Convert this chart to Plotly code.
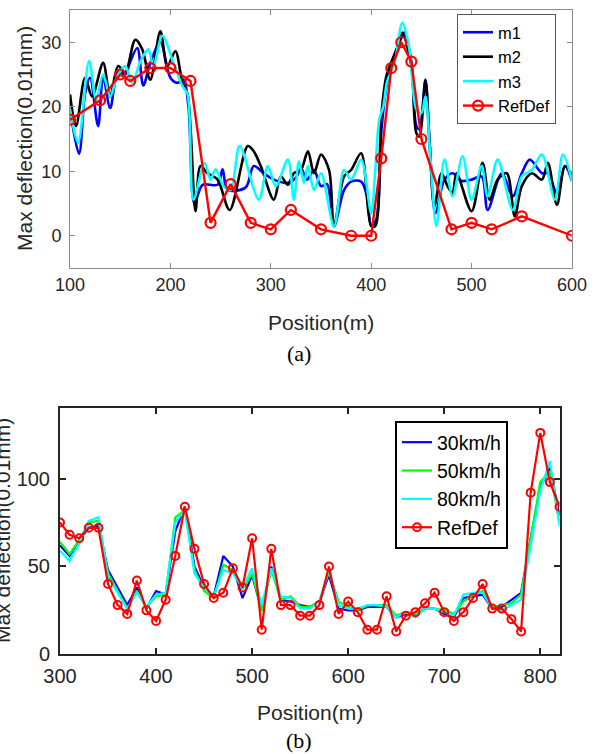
import plotly.graph_objects as go

# ---------------- (a) data ----------------
m1_x = [100,109,115,120,128,133,140,148,155,160,167,173,180,190,200,207,213,218,224,232,247,252,257,275,283,293,303,317,325,330,336,343,350,356,363,373,380,390,396,400,405,410,415,421,428,433,440,445,448,454,458,464,473,481,490,500,510,516,530,541,550,558,570,576,585,593,600]
m1_y = [19.6,12.7,22,24.5,17,24.7,19.8,25.5,25,27,29.1,23.3,26.8,30,24.5,23.7,24.2,20,5,7.9,7.9,10.3,7.1,7.5,10.8,9.7,8.7,8.2,9,10.5,8.7,10.2,7.7,8,1.5,7.1,8.4,8.4,6,1.5,2.5,16,23,27,30,31.5,27,17,16.5,24.2,15,3.5,8.7,9.7,8.5,8.7,9.2,4,9.7,6.1,9.7,11.8,9.7,9.7,6.6,10.8,8.5]

m2_x = [100,106,115,122,133,140,148,155,165,172,180,190,197,205,212,217,225,230,237,247,259,277,283,290,303,310,317,323,330,337,343,350,358,363,373,380,390,400,404,410,415,421,428,431,440,445,448,454,458,463,470,476,481,485,500,511,518,526,535,543,550,560,570,576,585,593,600]
m2_y = [21.9,17,24.5,21.6,26.8,21.6,26.3,25.3,30.4,28.9,24.2,31.7,26.3,28.6,23.7,22,3.8,10.8,9.7,8.7,4,13.9,13.1,10.8,5.6,9.2,7.9,9.7,10.2,13.1,9.7,12.6,10.2,1.5,9.2,10.2,12.8,1.5,1.5,18.5,24.7,27.3,29.9,31.5,26.3,15.9,15.4,24,14.9,4.6,9.7,7.7,6.6,9.7,3.8,11.3,5.6,8.7,9.7,3,7.7,9.7,8.7,11.3,4.8,10.8,9.2]

m3_x = [100,108,119,126,133,140,147,155,162,170,178,183,192,203,212,217,223,234,240,245,253,260,269,288,297,305,317,323,328,333,337,343,350,363,373,380,390,400,404,408,412,416,423,431,438,445,450,454,459,465,473,481,491,500,510,516,526,541,550,560,570,583,591,600]
m3_y = [19.6,14.4,27.1,21.1,25,21.6,24.7,26.3,23.7,27,28.9,26.3,31,26.8,23.2,22,5.6,11.3,8.7,10.3,7.7,7.1,13.9,5.6,10.8,7.7,11.8,5.6,11.5,8.2,10.8,7.1,9.7,1.5,10.2,8.7,11.8,3.5,10,18,20,24,26.5,33,28.9,19.6,19,21.6,12,1.5,11.8,6.1,12.3,5.6,10.8,6.1,11.8,4,9.2,10.2,12.6,5.6,12.6,8.5]

refa_x = [100,130,150,160,180,200,220,240,260,280,300,320,350,380,400,410,420,430,440,450,480,500,520,550,600]
refa_y = [18,21,25,24,26,26,24,2,8,2,1,4,1,0,0,12,26,30,27,15,1,2,1,3,0]

# ---------------- (b) data ----------------
pos_b = list(range(300, 821, 10))
v30 = [62,56,65,72,73,48,38,28,38,26,36,34,70,84,50,38,33,56,50,32,45,25,50,31,30,28,27,30,45,26,25,25,27,27,27,21,23,23,26,26,23,21,32,33,34,26,27,31,35,66,95,106,79]
v50 = [64,57,65,75,76,46,36,26,36,27,33,34,78,82,48,36,32,51,48,37,46,25,48,31,33,27,27,30,47,30,27,25,28,28,28,22,24,23,26,26,25,23,30,34,36,27,28,29,34,66,98,104,75]
v80 = [59,53,63,76,78,44,35,26,35,27,34,35,75,82,46,38,33,48,46,38,49,28,49,33,32,26,26,30,48,28,26,26,28,28,27,21,24,21,26,26,24,22,34,35,35,26,25,28,31,62,93,110,73]
refb = [75,68,66,72,72,40,28,23,42,25,19,31,56,84,60,40,32,35,49,38,66,14,60,28,28,22,22,28,50,23,30,24,14,14,33,13,22,24,29,35,24,19,24,32,40,26,26,20,13,92,126,98,84]

W, H = 599, 754
FONT = "Liberation Sans, Arial, sans-serif"

fig = go.Figure()

for name, xs, ys, col in [("m1", m1_x, m1_y, "#0000FF"), ("m2", m2_x, m2_y, "#000000"), ("m3", m3_x, m3_y, "#00FFFF")]:
    fig.add_trace(go.Scatter(x=xs, y=ys, mode="lines", name=name,
                             line=dict(color=col, width=2.6, shape="spline", smoothing=0.9),
                             xaxis="x", yaxis="y", legend="legend"))
fig.add_trace(go.Scatter(x=refa_x, y=refa_y, mode="lines+markers", name="RefDef",
                         line=dict(color="#FF0000", width=2.4),
                         marker=dict(symbol="circle-open", size=10, color="#FF0000", line=dict(width=2.2)),
                         xaxis="x", yaxis="y", legend="legend"))

for name, ys, col in [("30km/h", v30, "#0000FF"), ("50km/h", v50, "#00FF00"), ("80km/h", v80, "#00FFFF")]:
    fig.add_trace(go.Scatter(x=pos_b, y=ys, mode="lines", name=name,
                             line=dict(color=col, width=2.2),
                             xaxis="x2", yaxis="y2", legend="legend2"))
fig.add_trace(go.Scatter(x=pos_b, y=refb, mode="lines+markers", name="RefDef",
                         line=dict(color="#FF0000", width=2.2),
                         marker=dict(symbol="circle-open", size=8, color="#FF0000", line=dict(width=2)),
                         xaxis="x2", yaxis="y2", legend="legend2"))

ax_a = dict(showline=True, linecolor="#8a8a8a", linewidth=1, mirror="ticks", ticks="inside",
            ticklen=5, tickcolor="#8a8a8a", showgrid=False, zeroline=False, automargin=False,
            tickfont=dict(family=FONT, size=18, color="#262626"))
ax_b = dict(showline=True, linecolor="#262626", linewidth=2, mirror="ticks", ticks="inside",
            ticklen=6, tickwidth=2, tickcolor="#262626", showgrid=False, zeroline=False, automargin=False,
            tickfont=dict(family=FONT, size=20, color="#262626"))

fig.update_layout(
    width=W, height=H, margin=dict(l=0, r=0, t=0, b=0, autoexpand=False),
    paper_bgcolor="white", plot_bgcolor="white", showlegend=True,
    xaxis=dict(domain=[70/W, 572/W], range=[100, 600], tickvals=[100,200,300,400,500,600],
               anchor="y", ticklabelstandoff=0, **ax_a),
    yaxis=dict(domain=[1-268/H, 1-10/H], range=[-5, 35], tickvals=[0,10,20,30],
               anchor="x", ticklabelstandoff=4, **ax_a),
    xaxis2=dict(domain=[60/W, 559.5/W], range=[300, 820], tickvals=[300,400,500,600,700,800],
                anchor="y2", ticklabelstandoff=3, **ax_b),
    yaxis2=dict(domain=[1-654.3/H, 1-408.3/H], range=[0, 140], tickvals=[0,50,100],
                anchor="x2", ticklabelstandoff=4, **ax_b),
    legend=dict(x=457/W, y=1-14/H, xanchor="left", yanchor="top", bgcolor="white",
                bordercolor="#555555", borderwidth=1, font=dict(family=FONT, size=16.5, color="#000"),
                tracegroupgap=0, itemwidth=30),
    legend2=dict(x=395/W, y=1-421/H, xanchor="left", yanchor="top", bgcolor="white",
                 bordercolor="#000000", borderwidth=2, font=dict(family=FONT, size=19.5, color="#000"),
                 tracegroupgap=0, itemwidth=30),
    annotations=[
        dict(text="Max deflection(0.01mm)", x=25/W, y=1-139/H, xref="paper", yref="paper",
             xanchor="center", yanchor="middle",
             showarrow=False, textangle=-90, font=dict(family=FONT, size=21, color="#262626")),
        dict(text="Position(m)", x=321/W, y=1-323/H, xref="paper", yref="paper",
             xanchor="center", yanchor="middle",
             showarrow=False, font=dict(family=FONT, size=21, color="#262626")),
        dict(text="(a)", x=299/W, y=1-354/H, xref="paper", yref="paper",
             xanchor="center", yanchor="middle",
             showarrow=False, font=dict(family="Liberation Serif, Times New Roman, serif", size=22, color="#000")),
        dict(text="Max deflection(0.01mm)", x=2/W, y=1-531/H, xref="paper", yref="paper",
             xanchor="center", yanchor="middle",
             showarrow=False, textangle=-90, font=dict(family=FONT, size=21, color="#262626")),
        dict(text="Position(m)", x=310/W, y=1-712/H, xref="paper", yref="paper",
             xanchor="center", yanchor="middle",
             showarrow=False, font=dict(family=FONT, size=21, color="#262626")),
        dict(text="(b)", x=299/W, y=1-740/H, xref="paper", yref="paper",
             xanchor="center", yanchor="middle",
             showarrow=False, font=dict(family="Liberation Serif, Times New Roman, serif", size=22, color="#000")),
    ],
)

fig.write_html("out.html", config={"displayModeBar": False},
               post_script="document.body.style.margin='0';document.body.style.overflow='hidden';")
